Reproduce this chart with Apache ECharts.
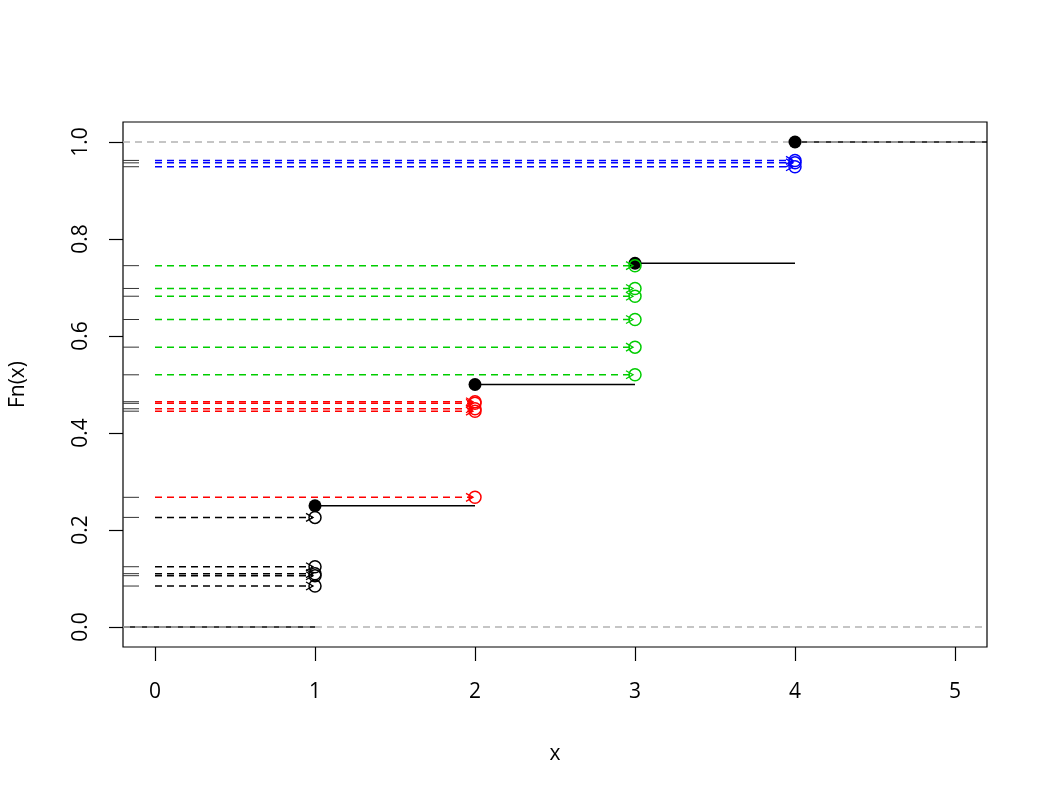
<!DOCTYPE html>
<html>
<head>
<meta charset="utf-8">
<script src="https://cdn.jsdelivr.net/npm/echarts@6/dist/echarts.min.js"></script>
<style>html,body{margin:0;padding:0;background:#fff}#c{width:1050px;height:800px}</style>
</head>
<body>
<div id="c"></div>
<script>
// ---- data ----
const xTicks = [0, 1, 2, 3, 4, 5];
const yTicks = [0, 0.2, 0.4, 0.6, 0.8, 1.0];
const yTickLabels = ['0.0', '0.2', '0.4', '0.6', '0.8', '1.0'];
const knots = [1, 2, 3, 4];
const fnValues = [0.25, 0.5, 0.75, 1.0];
const blackY = [0.0845, 0.1058, 0.110, 0.1243, 0.226];
const redY = [0.2674, 0.445, 0.450, 0.4612, 0.4645];
const greenY = [0.520, 0.577, 0.634, 0.682, 0.698, 0.745];
const blueY = [0.949, 0.957, 0.962];
const groupX = [1, 2, 3, 4];
const groupColors = ['#000000', '#FF0000', '#00CD00', '#0000FF'];
const refLines = [0, 1];
const xMin = -0.2, xMax = 5.2, yMin = -0.0412, yMax = 1.0412;

const groups = [blackY, redY, greenY, blueY];
const FONT = 'Open Sans';
const FS = 21;

// step segments [start, end, level]
const segs = [[xMin, knots[0], 0]];
for (let i = 0; i < knots.length; i++) {
  segs.push([knots[i], i + 1 < knots.length ? knots[i + 1] : xMax, fnValues[i]]);
}

const series = [];
// ECDF horizontal segments
series.push({
  type: 'custom', z: 2, silent: true,
  data: segs,
  renderItem: function (params, api) {
    const a = api.coord([api.value(0), api.value(2)]);
    const b = api.coord([api.value(1), api.value(2)]);
    return { type: 'line', shape: { x1: a[0], y1: a[1], x2: b[0], y2: b[1] },
      style: { stroke: '#000', lineWidth: 1.5 } };
  }
});
// gray reference lines
series.push({
  type: 'custom', z: 3, silent: true,
  data: refLines.map(v => [0, v]),
  renderItem: function (params, api) {
    const cs = params.coordSys;
    const p = api.coord([0, api.value(1)]);
    return { type: 'line', shape: { x1: cs.x, y1: p[1], x2: cs.x + cs.width, y2: p[1] },
      style: { stroke: '#B3B3B3', lineWidth: 1.5, lineDash: [7, 5] } };
  }
});
// filled knot points
series.push({
  type: 'scatter', z: 4, silent: true,
  data: knots.map((k, i) => [k, fnValues[i]]),
  symbol: 'circle', symbolSize: 13,
  itemStyle: { color: '#000', opacity: 1 }
});
// rug + arrows + open circles per group
groups.forEach((ys, gi) => {
  const col = groupColors[gi];
  const gx = groupX[gi];
  series.push({
    type: 'custom', z: 5, silent: true,
    data: ys.map(y => [gx, y]),
    renderItem: function (params, api) {
      const cs = params.coordSys;
      const y = api.value(1), x = api.value(0);
      const p0 = api.coord([0, y]);
      const p1 = api.coord([x, y]);
      const tx = p1[0] - 2;
      return { type: 'group', children: [
        { type: 'line', shape: { x1: cs.x, y1: p0[1], x2: cs.x + 16, y2: p0[1] },
          style: { stroke: '#333', lineWidth: 1 } },
        { type: 'line', shape: { x1: p0[0], y1: p0[1], x2: tx, y2: p1[1] },
          style: { stroke: col, lineWidth: 1.5, lineDash: [7, 5] } },
        { type: 'polyline', shape: { points: [[tx - 7, p1[1] - 4], [tx, p1[1]], [tx - 7, p1[1] + 4]] },
          style: { stroke: col, fill: null, lineWidth: 1.3 } }
      ] };
    }
  });
  series.push({
    type: 'scatter', z: 6, silent: true,
    data: ys.map(y => [gx, y]),
    symbol: 'circle', symbolSize: 12,
    itemStyle: { color: 'rgba(0,0,0,0)', borderColor: col, borderWidth: 1.5, opacity: 1 }
  });
});

const chart = echarts.init(document.getElementById('c'), null, { renderer: 'canvas' });
chart.setOption({
  animation: false,
  backgroundColor: '#fff',
  grid: { left: 123, right: 63, top: 122, bottom: 153, show: true, borderColor: '#000', borderWidth: 1.2, backgroundColor: 'transparent' },
  xAxis: {
    type: 'value', min: xMin, max: xMax,
    name: 'x', nameLocation: 'middle', nameGap: 97,
    nameTextStyle: { fontFamily: FONT, fontSize: FS, color: '#000' },
    axisLine: { show: false, onZero: false },
    splitLine: { show: false },
    axisTick: { show: true, inside: false, length: 14, customValues: xTicks, lineStyle: { color: '#000', width: 1.2 } },
    axisLabel: { customValues: xTicks, margin: 35, fontFamily: FONT, fontSize: FS, color: '#000',
      formatter: v => String(v) }
  },
  yAxis: {
    type: 'value', min: yMin, max: yMax,
    name: 'Fn(x)', nameLocation: 'middle', nameGap: 94, nameRotate: 90,
    nameTextStyle: { fontFamily: FONT, fontSize: FS, color: '#000' },
    axisLine: { show: false, onZero: false },
    splitLine: { show: false },
    axisTick: { show: true, inside: false, length: 14, customValues: yTicks, lineStyle: { color: '#000', width: 1.2 } },
    axisLabel: { customValues: yTicks, rotate: 90, margin: 31, fontFamily: FONT, fontSize: FS, color: '#000',
      formatter: v => yTickLabels[yTicks.findIndex(t => Math.abs(t - v) < 1e-9)] }
  },
  series: series
});
</script>
</body>
</html>
